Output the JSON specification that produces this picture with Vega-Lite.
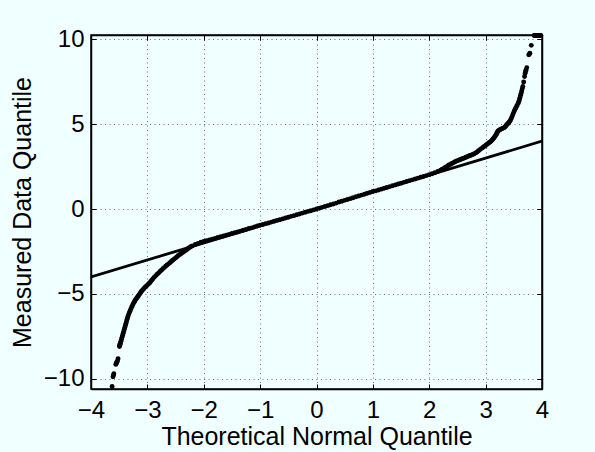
{
  "$schema": "https://vega.github.io/schema/vega-lite/v6.json",
  "width": 451,
  "height": 354,
  "autosize": "none",
  "padding": {"left": 91, "top": 35, "right": 53, "bottom": 63},
  "background": "#f0ffff",
  "config": {
    "font": "Liberation Sans",
    "view": {"stroke": "black", "strokeWidth": 1.5},
    "axis": {
      "labelFontSize": 24,
      "titleFontSize": 25,
      "titleFontWeight": "normal",
      "labelColor": "black",
      "titleColor": "black",
      "domainColor": "black",
      "domainWidth": 1.5,
      "tickColor": "black",
      "tickWidth": 1,
      "tickSize": -5,
      "gridColor": "#707070",
      "gridDash": [1, 3.5],
      "gridWidth": 1
    }
  },
  "datasets": {
    "pts": [
      {"x": -3.625, "y": -10.45}, {"x": -3.61, "y": -9.88}, {"x": -3.6, "y": -9.78}, {"x": -3.595, "y": -9.7}, {"x": -3.56, "y": -9.15}, {"x": -3.55, "y": -9.08}, {"x": -3.545, "y": -9.03}, {"x": -3.53, "y": -8.95}, {"x": -3.52, "y": -8.82},
      {"x": -3.495, "y": -8.1}, {"x": -3.49, "y": -8.02}, {"x": -3.485, "y": -7.96}, {"x": -3.48, "y": -7.9}, {"x": -3.47, "y": -7.79}, {"x": -3.46, "y": -7.68}, {"x": -3.45, "y": -7.56}, {"x": -3.44, "y": -7.45}, {"x": -3.43, "y": -7.33}, {"x": -3.42, "y": -7.22}, {"x": -3.41, "y": -7.1}, {"x": -3.4, "y": -6.98}, {"x": -3.39, "y": -6.86}, {"x": -3.38, "y": -6.74}, {"x": -3.37, "y": -6.62}, {"x": -3.36, "y": -6.5}, {"x": -3.35, "y": -6.39}, {"x": -3.34, "y": -6.28}, {"x": -3.325, "y": -6.15}, {"x": -3.31, "y": -6.02}, {"x": -3.295, "y": -5.9}, {"x": -3.28, "y": -5.78}, {"x": -3.265, "y": -5.68}, {"x": -3.25, "y": -5.58}, {"x": -3.235, "y": -5.49}, {"x": -3.22, "y": -5.4}, {"x": -3.205, "y": -5.32}, {"x": -3.19, "y": -5.25}, {"x": -3.175, "y": -5.18}, {"x": -3.16, "y": -5.12}, {"x": -3.145, "y": -5.04}, {"x": -3.13, "y": -4.97}, {"x": -3.115, "y": -4.9}, {"x": -3.1, "y": -4.82}, {"x": -3.08, "y": -4.75}, {"x": -3.06, "y": -4.68}, {"x": -3.04, "y": -4.61}, {"x": -3.02, "y": -4.55}, {"x": -3.0, "y": -4.48}, {"x": -2.98, "y": -4.42}, {"x": -2.96, "y": -4.35}, {"x": -2.94, "y": -4.27}, {"x": -2.92, "y": -4.18}, {"x": -2.9, "y": -4.1}, {"x": -2.875, "y": -4.01}, {"x": -2.85, "y": -3.92}, {"x": -2.825, "y": -3.84}, {"x": -2.8, "y": -3.76}, {"x": -2.775, "y": -3.68}, {"x": -2.75, "y": -3.6}, {"x": -2.725, "y": -3.52}, {"x": -2.7, "y": -3.45}, {"x": -2.675, "y": -3.37}, {"x": -2.65, "y": -3.3}, {"x": -2.625, "y": -3.23}, {"x": -2.6, "y": -3.16}, {"x": -2.575, "y": -3.09}, {"x": -2.55, "y": -3.02}, {"x": -2.525, "y": -2.95}, {"x": -2.5, "y": -2.88}, {"x": -2.475, "y": -2.81}, {"x": -2.45, "y": -2.74}, {"x": -2.425, "y": -2.68}, {"x": -2.4, "y": -2.62}, {"x": -2.375, "y": -2.56}, {"x": -2.35, "y": -2.5}, {"x": -2.325, "y": -2.44}, {"x": -2.3, "y": -2.38}, {"x": -2.275, "y": -2.32}, {"x": -2.25, "y": -2.26}, {"x": -2.225, "y": -2.21},
      {"x": -2.2, "y": -2.17}, {"x": -2.15, "y": -2.09}, {"x": -2.1, "y": -2.02}, {"x": -2.05, "y": -1.96}, {"x": -2.0, "y": -1.91}, {"x": -1.95, "y": -1.86}, {"x": -1.9, "y": -1.82}, {"x": -1.85, "y": -1.77}, {"x": -1.8, "y": -1.73}, {"x": -1.75, "y": -1.68}, {"x": -1.7, "y": -1.63}, {"x": -1.65, "y": -1.59}, {"x": -1.6, "y": -1.54}, {"x": -1.55, "y": -1.49}, {"x": -1.5, "y": -1.44}, {"x": -1.45, "y": -1.4}, {"x": -1.4, "y": -1.35}, {"x": -1.35, "y": -1.3}, {"x": -1.3, "y": -1.25}, {"x": -1.25, "y": -1.2}, {"x": -1.2, "y": -1.15}, {"x": -1.15, "y": -1.11}, {"x": -1.1, "y": -1.05}, {"x": -1.05, "y": -1.0}, {"x": -1.0, "y": -0.95}, {"x": -0.95, "y": -0.91}, {"x": -0.9, "y": -0.86}, {"x": -0.85, "y": -0.82}, {"x": -0.8, "y": -0.77}, {"x": -0.75, "y": -0.72}, {"x": -0.7, "y": -0.67}, {"x": -0.65, "y": -0.63}, {"x": -0.6, "y": -0.58}, {"x": -0.55, "y": -0.53}, {"x": -0.5, "y": -0.48}, {"x": -0.45, "y": -0.43}, {"x": -0.4, "y": -0.39}, {"x": -0.35, "y": -0.34}, {"x": -0.3, "y": -0.29}, {"x": -0.25, "y": -0.24}, {"x": -0.2, "y": -0.19}, {"x": -0.15, "y": -0.14}, {"x": -0.1, "y": -0.1}, {"x": -0.05, "y": -0.05},
      {"x": 0.0, "y": 0.0}, {"x": 0.05, "y": 0.05}, {"x": 0.1, "y": 0.1}, {"x": 0.15, "y": 0.15}, {"x": 0.2, "y": 0.2}, {"x": 0.25, "y": 0.25}, {"x": 0.3, "y": 0.3}, {"x": 0.35, "y": 0.35}, {"x": 0.4, "y": 0.41}, {"x": 0.45, "y": 0.46}, {"x": 0.5, "y": 0.51}, {"x": 0.55, "y": 0.56}, {"x": 0.6, "y": 0.61}, {"x": 0.65, "y": 0.66}, {"x": 0.7, "y": 0.72}, {"x": 0.75, "y": 0.77}, {"x": 0.8, "y": 0.82}, {"x": 0.85, "y": 0.87}, {"x": 0.9, "y": 0.93}, {"x": 0.95, "y": 0.98}, {"x": 1.0, "y": 1.03}, {"x": 1.05, "y": 1.07}, {"x": 1.1, "y": 1.12}, {"x": 1.15, "y": 1.17}, {"x": 1.2, "y": 1.22}, {"x": 1.25, "y": 1.27}, {"x": 1.3, "y": 1.32}, {"x": 1.35, "y": 1.37}, {"x": 1.4, "y": 1.42}, {"x": 1.45, "y": 1.47}, {"x": 1.5, "y": 1.52}, {"x": 1.55, "y": 1.57}, {"x": 1.6, "y": 1.62}, {"x": 1.65, "y": 1.67}, {"x": 1.7, "y": 1.72}, {"x": 1.75, "y": 1.77}, {"x": 1.8, "y": 1.82}, {"x": 1.85, "y": 1.87}, {"x": 1.9, "y": 1.92}, {"x": 1.95, "y": 1.97}, {"x": 2.0, "y": 2.02}, {"x": 2.05, "y": 2.08}, {"x": 2.1, "y": 2.14}, {"x": 2.15, "y": 2.21}, {"x": 2.2, "y": 2.29},
      {"x": 2.225, "y": 2.33}, {"x": 2.25, "y": 2.38}, {"x": 2.275, "y": 2.43}, {"x": 2.3, "y": 2.48}, {"x": 2.325, "y": 2.54}, {"x": 2.35, "y": 2.59}, {"x": 2.375, "y": 2.63}, {"x": 2.4, "y": 2.68}, {"x": 2.425, "y": 2.72}, {"x": 2.45, "y": 2.77}, {"x": 2.475, "y": 2.81}, {"x": 2.5, "y": 2.85}, {"x": 2.525, "y": 2.88}, {"x": 2.55, "y": 2.92}, {"x": 2.575, "y": 2.95}, {"x": 2.6, "y": 2.98}, {"x": 2.625, "y": 3.01}, {"x": 2.65, "y": 3.05}, {"x": 2.675, "y": 3.08}, {"x": 2.7, "y": 3.12}, {"x": 2.725, "y": 3.15}, {"x": 2.75, "y": 3.18}, {"x": 2.775, "y": 3.22}, {"x": 2.8, "y": 3.26}, {"x": 2.825, "y": 3.31}, {"x": 2.85, "y": 3.36}, {"x": 2.875, "y": 3.43}, {"x": 2.9, "y": 3.5}, {"x": 2.925, "y": 3.56}, {"x": 2.95, "y": 3.62}, {"x": 2.975, "y": 3.68}, {"x": 3.0, "y": 3.74}, {"x": 3.02, "y": 3.8}, {"x": 3.04, "y": 3.85}, {"x": 3.06, "y": 3.9}, {"x": 3.08, "y": 3.95}, {"x": 3.1, "y": 4.01}, {"x": 3.12, "y": 4.08}, {"x": 3.135, "y": 4.14}, {"x": 3.15, "y": 4.2}, {"x": 3.165, "y": 4.27}, {"x": 3.18, "y": 4.35}, {"x": 3.19, "y": 4.41}, {"x": 3.2, "y": 4.48}, {"x": 3.21, "y": 4.54}, {"x": 3.22, "y": 4.6}, {"x": 3.24, "y": 4.64}, {"x": 3.26, "y": 4.68}, {"x": 3.28, "y": 4.71}, {"x": 3.3, "y": 4.75}, {"x": 3.32, "y": 4.78}, {"x": 3.34, "y": 4.82}, {"x": 3.355, "y": 4.88}, {"x": 3.37, "y": 4.95}, {"x": 3.385, "y": 5.0}, {"x": 3.4, "y": 5.06}, {"x": 3.415, "y": 5.11}, {"x": 3.43, "y": 5.17}, {"x": 3.445, "y": 5.27}, {"x": 3.46, "y": 5.38}, {"x": 3.475, "y": 5.5}, {"x": 3.49, "y": 5.62}, {"x": 3.505, "y": 5.74}, {"x": 3.52, "y": 5.86}, {"x": 3.535, "y": 5.95}, {"x": 3.55, "y": 6.05}, {"x": 3.565, "y": 6.15}, {"x": 3.58, "y": 6.25}, {"x": 3.59, "y": 6.35}, {"x": 3.6, "y": 6.45}, {"x": 3.61, "y": 6.57}, {"x": 3.62, "y": 6.7}, {"x": 3.63, "y": 6.82}, {"x": 3.64, "y": 6.95}, {"x": 3.65, "y": 7.08}, {"x": 3.66, "y": 7.22},
      {"x": 3.675, "y": 7.48}, {"x": 3.69, "y": 7.8}, {"x": 3.7, "y": 7.98}, {"x": 3.71, "y": 8.1}, {"x": 3.715, "y": 8.18}, {"x": 3.73, "y": 8.32}, {"x": 3.765, "y": 9.08}, {"x": 3.775, "y": 9.12}, {"x": 3.785, "y": 9.18}, {"x": 3.81, "y": 9.64},
      {"x": 3.86, "y": 10.22}, {"x": 3.875, "y": 10.22}, {"x": 3.89, "y": 10.22}, {"x": 3.905, "y": 10.22}, {"x": 3.92, "y": 10.22}, {"x": 3.935, "y": 10.22}, {"x": 3.95, "y": 10.22}, {"x": 3.965, "y": 10.22}, {"x": 3.98, "y": 10.22}
    ],
    "ref": [
      {"x": -4, "y": -4},
      {"x": 4, "y": 4}
    ]
  },
  "layer": [
    {
      "data": {"name": "pts"},
      "mark": {"type": "circle", "color": "black", "opacity": 1, "size": 24},
      "encoding": {
        "x": {
          "field": "x", "type": "quantitative",
          "scale": {"domain": [-4, 4], "nice": false, "zero": false},
          "axis": {"orient": "bottom", "values": [-4, -3, -2, -1, 0, 1, 2, 3, 4], "title": "Theoretical Normal Quantile", "labelPadding": 14, "titlePadding": 2, "grid": true, "labelFlush": false}
        },
        "y": {
          "field": "y", "type": "quantitative",
          "scale": {"domain": [-10.6, 10.25], "nice": false, "zero": false},
          "axis": {"orient": "left", "values": [-10, -5, 0, 5, 10], "title": "Measured Data Quantile", "labelPadding": 12, "titlePadding": 8, "grid": true, "labelFlush": false}
        }
      }
    },
    {
      "data": {"name": "ref"},
      "mark": {"type": "line", "color": "black", "strokeWidth": 2.8, "clip": true},
      "encoding": {
        "x": {
          "field": "x", "type": "quantitative",
          "axis": {"orient": "top", "values": [-4, -3, -2, -1, 0, 1, 2, 3, 4], "labels": false, "title": null, "grid": false}
        },
        "y": {
          "field": "y", "type": "quantitative",
          "axis": {"orient": "right", "values": [-10, -5, 0, 5, 10], "labels": false, "title": null, "grid": false}
        }
      }
    }
  ],
  "resolve": {"axis": {"x": "independent", "y": "independent"}}
}
